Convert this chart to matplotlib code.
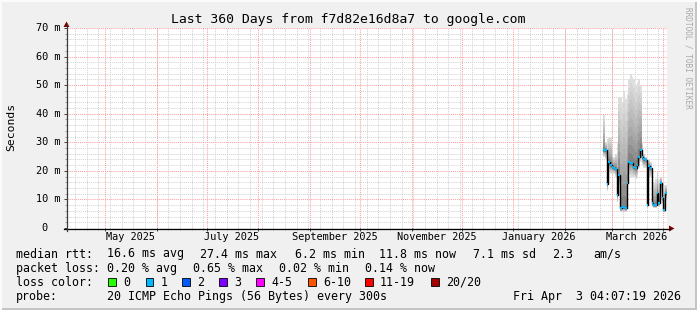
import datetime as dt
import numpy as np
import pandas as pd
import matplotlib
matplotlib.use("Agg")
import matplotlib.pyplot as plt
from matplotlib.patches import Rectangle, Polygon
from matplotlib.lines import Line2D

# ---------------- data ----------------
title = "Last 360 Days from f7d82e16d8a7 to google.com"
range_start = dt.datetime(2025, 4, 8, 4, 7, 19)
range_end = dt.datetime(2026, 4, 3, 4, 7, 19)

sample_days = pd.date_range("2026-02-24", periods=39, freq="D").to_pydatetime().tolist()

median_ms = [27.3, 27.3, 15.4, 23.2, 22.0, 21.5, 21.1, 20.8, 11.5, 18.5,
             6.9, 7.2, 7.2, 7.0, 15.6, 23.2, 22.8, 22.6, 21.5, 20.9,
             22.0, 25.0, 27.3, 25.0, 24.0, 23.8, 8.0, 21.7, 21.0, 8.6,
             8.0, 8.2, 12.1, 8.6, 15.6, 10.4, 6.3, 12.1, 11.8]
smoke_hi_ms = [39.5, 30, 31, 32, 32, 27, 25, 26, 30, 46,
               46, 44, 48, 45, 47, 52, 54, 53, 52, 50,
               51, 52, 50, 30, 26, 25, 20, 24, 23, 18,
               16, 17, 19.5, 17, 18, 14, 15, 15, 14]
smoke_lo_ms = [25, 24, 13, 20, 19, 19, 19, 18, 9, 15,
               5.5, 5.6, 5.6, 5.5, 12, 19, 18, 18, 18, 17,
               18, 21, 23, 22, 21, 21, 7, 18, 18, 7.5,
               7, 7, 10, 7.5, 12, 8.5, 5.5, 10, 10]

y_ticks = [0, 10, 20, 30, 40, 50, 60, 70]
y_labels = ["0", "10 m", "20 m", "30 m", "40 m", "50 m", "60 m", "70 m"]
x_label_dates = ["2025-05-16", "2025-07-16", "2025-09-16", "2025-11-16", "2026-01-16", "2026-03-16"]
x_labels = ["May 2025", "July 2025", "September 2025", "November 2025", "January 2026", "March 2026"]

row_median = [("median rtt:", 16), ("16.6 ms avg", 107.3), ("27.4 ms max", 200), ("6.2 ms min", 295),
              ("11.8 ms now", 379.3), ("7.1 ms sd", 472.7), ("2.3", 551.7), ("am/s", 593.3)]
row_loss = [("packet loss:", 16), ("0.20 % avg", 107.3), ("0.65 % max", 193.3),
            ("0.02 % min", 279.3), ("0.14 % now", 365)]
loss_labels = ["0", "1", "2", "3", "4-5", "6-10", "11-19", "20/20"]
loss_colors = ["#26ff00", "#00b8ff", "#0059ff", "#7e00ff", "#ff00ff", "#ff5500", "#ff0000", "#a10000"]
loss_box_x = [108.3, 145.7, 182.3, 219.3, 256, 308.3, 365, 431]
row_probe = [("probe:", 16), ("20 ICMP Echo Pings (56 Bytes) every 300s", 107.3),
             ("Fri Apr  3 04:07:19 2026", 513.3)]

# ---------------- figure ----------------
W, H = 697, 310
BG = "#f0f0f0"
MONO = "DejaVu Sans Mono"
plt.rcParams["font.family"] = MONO

fig = plt.figure(figsize=(W / 100, H / 100), dpi=100, facecolor=BG)

def fx(x):
    return x / W

def fy(y):
    return 1 - y / H

# 3D border
fig.add_artist(Rectangle((0, 0), 1, 2 / H, transform=fig.transFigure, color="#c4c4c4", lw=0))
fig.add_artist(Rectangle((1 - 2 / W, 0), 2 / W, 1, transform=fig.transFigure, color="#c4c4c4", lw=0))
fig.add_artist(Rectangle((0, 1 - 2 / H), 1, 2 / H, transform=fig.transFigure, color="#fbfbfb", lw=0))
fig.add_artist(Rectangle((0, 0), 2 / W, 1, transform=fig.transFigure, color="#fbfbfb", lw=0))

X0, X1, Y0, Y1 = 67, 667, 228, 28
ax = fig.add_axes([fx(X0), fy(Y0), (X1 - X0) / W, (Y0 - Y1) / H])
ax.set_facecolor("white")
ax.set_xlim(range_start, range_end)
ax.set_ylim(0, 70)
for s in ax.spines.values():
    s.set_visible(False)

# grid
dots = (0, (1, 1))
weeks = pd.date_range("2025-04-13", "2026-04-03", freq="7D").to_pydatetime()
months = pd.date_range("2025-05-01", "2026-04-01", freq="MS").to_pydatetime()
for w in weeks:
    ax.axvline(w, color="#d2d2d2", lw=0.7, ls=dots, zorder=0)
for v in range(2, 71, 2):
    if v % 10:
        ax.axhline(v, color="#d2d2d2", lw=0.7, ls=dots, zorder=0)
for m in months:
    ax.axvline(m, color="#ffa0a0", lw=0.75, ls=dots, zorder=0.5)
for v in range(10, 71, 10):
    ax.axhline(v, color="#ffa0a0", lw=0.75, ls=dots, zorder=0.5)

# ticks
ax.set_yticks(y_ticks)
ax.set_yticks(range(0, 71, 2), minor=True)
ax.set_xticks(months)
ax.set_xticks(weeks, minor=True)
ax.set_yticklabels([])
ax.set_xticklabels([])
ax.tick_params(which="major", length=2.5, width=0.7, color="#404040", direction="out")
ax.tick_params(which="minor", length=1.5, width=0.6, color="#909090", direction="out")

# smoke
x_ext = sample_days + [range_end]
med = np.array(median_ms)
hi = np.array(smoke_hi_ms)
lo = np.array(smoke_lo_ms)
K = 10
for k in range(K, 0, -1):
    f = k / K
    up = med + (hi - med) * f
    dn = med - (med - lo) * f
    g = 0.42 + 0.45 * f ** 0.7
    ax.fill_between(x_ext, np.append(dn, dn[-1]), np.append(up, up[-1]), step="post",
                    color=(g, g, g), lw=0, zorder=2)

# median line
ax.step(x_ext, np.append(med, med[-1]), where="post", color="black", lw=1.0, zorder=3)
ax.hlines(med, sample_days, x_ext[1:], color="#00b8ff", lw=1.6, zorder=4)

# y labels
ytr = ax.get_yaxis_transform()
for v, lab in zip(y_ticks, y_labels):
    xpos = (60 - X0) / (X1 - X0) if lab != "0" else (47.5 - X0) / (X1 - X0)
    ax.text(xpos, v, lab, transform=ytr, ha="right", va="center", fontsize=7.35, clip_on=False)

# x labels
xtr = ax.get_xaxis_transform()
for d, lab in zip(x_label_dates, x_labels):
    ax.text(pd.Timestamp(d).to_pydatetime(), -(237.5 - Y0) / (Y0 - Y1), lab, transform=xtr,
            ha="center", va="center", fontsize=7.35, clip_on=False)

# axes lines and arrows
fig.add_artist(Line2D([fx(63.5), fx(669.5)], [fy(Y0 + 0.5), fy(Y0 + 0.5)], transform=fig.transFigure,
                      color="black", lw=0.9))
fig.add_artist(Line2D([fx(X0 - 0.5), fx(X0 - 0.5)], [fy(231), fy(24)], transform=fig.transFigure,
                      color="#3a3a3a", lw=0.9))
fig.add_artist(Polygon([[fx(669), fy(225.5)], [fx(674.5), fy(228.5)], [fx(669), fy(231.5)]],
                       closed=True, transform=fig.transFigure, color="#7f0000", lw=0))
fig.add_artist(Polygon([[fx(63.5), fy(27)], [fx(66.5), fy(21.5)], [fx(69.5), fy(27)]],
                       closed=True, transform=fig.transFigure, color="#7f0000", lw=0))

# title, unit, watermark
fig.text(fx(348), fy(19), title, ha="center", va="center", fontsize=9.45)
fig.text(fx(11), fy(127), "Seconds", ha="center", va="center", rotation=90, fontsize=8.2)
fig.text(fx(688), fy(58), "RRDTOOL / TOBI OETIKER", ha="center", va="center", rotation=270,
         fontsize=5.6, color="#a8a8a8")

# legend rows
LF = 8.4
for txt, x in row_median:
    fig.text(fx(x), fy(254), txt, ha="left", va="center", fontsize=LF)
for txt, x in row_loss:
    fig.text(fx(x), fy(268.3), txt, ha="left", va="center", fontsize=LF)
fig.text(fx(16), fy(282), "loss color:", ha="left", va="center", fontsize=LF)
for lab, col, bx in zip(loss_labels, loss_colors, loss_box_x):
    fig.add_artist(Rectangle((fx(bx), fy(285.5)), 7.5 / W, 7.5 / H, transform=fig.transFigure,
                             facecolor=col, edgecolor="black", lw=0.6))
    fig.text(fx(bx + 15), fy(282), lab, ha="left", va="center", fontsize=LF)
for txt, x in row_probe:
    fig.text(fx(x), fy(296.7), txt, ha="left", va="center", fontsize=LF)

fig.savefig("out.png", dpi=100, facecolor=BG)
